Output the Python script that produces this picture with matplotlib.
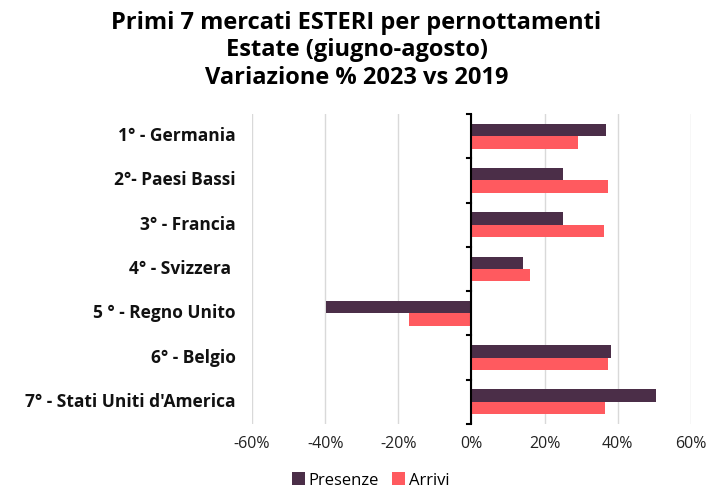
import numpy as np
from matplotlib import pyplot as plt
from matplotlib.ticker import FuncFormatter

# data
mercati = ["1° - Germania", "2°- Paesi Bassi", "3° - Francia", "4° - Svizzera ",
           "5 ° - Regno Unito", "6° - Belgio", "7° - Stati Uniti d'America"]
presenze = [36.7, 25.1, 25.1, 14.1, -39.7, 38.1, 50.4]
arrivi = [29.0, 37.4, 36.2, 16.0, -17.0, 37.2, 36.5]
x_ticks = [-60, -40, -20, 0, 20, 40, 60]

if __name__ == '__main__':
    plt.rcParams['font.family'] = ['Open Sans', 'DejaVu Sans']
    fig = plt.figure(figsize=(7.13, 4.9), dpi=100)
    ax = fig.add_axes([0.3534, 0.1347, 0.6157, 0.6327])

    y = np.arange(len(mercati))
    h = 0.28
    ax.barh(y - h / 2, presenze, height=h, color="#4b2e48", label="Presenze", zorder=3)
    ax.barh(y + h / 2, arrivi, height=h, color="#ff5a5f", label="Arrivi", zorder=3)

    ax.set_xlim(-60, 60)
    ax.set_ylim(len(mercati) - 0.5, -0.5)
    ax.set_xticks(x_ticks)
    ax.xaxis.set_major_formatter(FuncFormatter(lambda v, p: f"{v:.0f}%"))
    ax.tick_params(axis='x', length=0, labelsize=11.5, colors="#222222", pad=9)
    ax.grid(axis='x', color="#d9d9d9", linewidth=1, zorder=0)

    for s in ["top", "right", "bottom", "left"]:
        ax.spines[s].set_visible(False)

    # category axis drawn at zero
    ax.axvline(0, color="black", linewidth=1.5, zorder=4)
    ax.set_yticks(y)
    ax.set_yticklabels([])
    ax.tick_params(axis='y', length=0)
    for b in np.arange(len(mercati) + 1) - 0.5:
        ax.plot([-1.1, 0], [b, b], color="black", linewidth=1.5, zorder=4, clip_on=False)
    for yi, lab in zip(y, mercati):
        ax.text(-64.4, yi, lab, ha="right", va="center", fontsize=12.5,
                fontweight="bold", color="#111111")

    fig.text(0.5, 0.978, "Primi 7 mercati ESTERI per pernottamenti\nEstate (giugno-agosto)\nVariazione % 2023 vs 2019",
             ha="center", va="top", fontsize=17, fontweight="bold", linespacing=1.2)

    ax.legend(loc="upper center", bbox_to_anchor=(0.27, -0.108), ncol=2, frameon=False,
              fontsize=12, handlelength=0.8, handleheight=0.8, handletextpad=0.2,
              columnspacing=0.8)

    plt.savefig("out.png", dpi=100)
